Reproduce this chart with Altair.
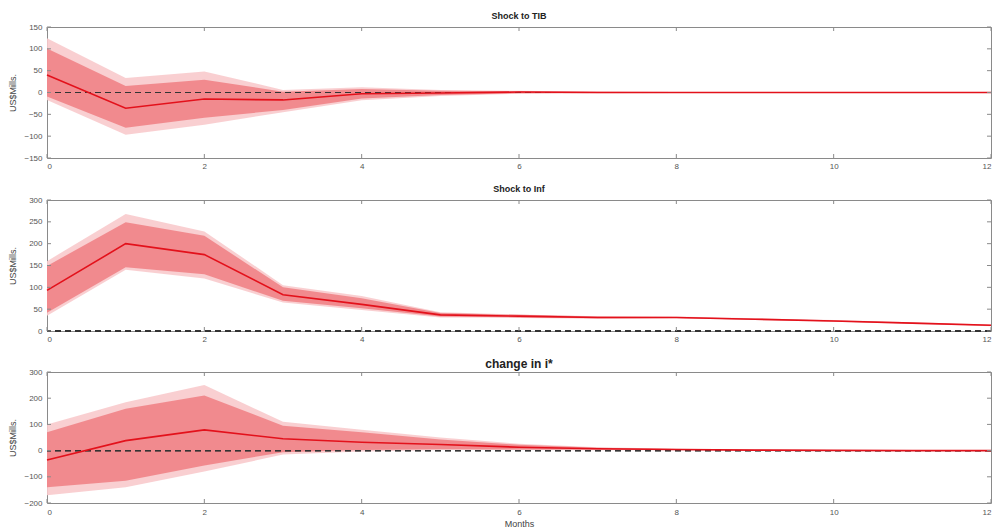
import altair as alt
import pandas as pd

months = list(range(13))
x_ticks = [0, 2, 4, 6, 8, 10, 12]

# Panel 1: Shock to TIB
tib_mean = [40, -36, -15, -17, -3, -1, 1, 0, 0, 0, 0, 0, 0]
tib_inner_hi = [101, 15, 29, 2, 8, 4, 3, 2, 1, 1, 1, 1, 1]
tib_inner_lo = [-9, -81, -58, -40, -14, -6, -2, -1, -1, -1, -1, -1, -1]
tib_outer_hi = [124, 33, 48, 6, 12, 6, 4, 2, 1, 1, 1, 1, 1]
tib_outer_lo = [-17, -97, -74, -45, -18, -8, -3, -2, -1, -1, -1, -1, -1]
tib_yticks = [-150, -100, -50, 0, 50, 100, 150]

# Panel 2: Shock to Inf
inf_mean = [93, 200, 175, 83, 61, 37, 34, 31, 31, 27, 23, 18, 13]
inf_inner_hi = [149, 249, 218, 100, 75, 41, 37, 33, 32, 28, 24, 19, 14]
inf_inner_lo = [42, 146, 130, 69, 52, 33, 31, 29, 30, 26, 22, 17, 12]
inf_outer_hi = [160, 268, 228, 105, 80, 43, 38, 34, 33, 29, 25, 20, 15]
inf_outer_lo = [35, 140, 120, 65, 48, 31, 30, 28, 29, 25, 21, 16, 11]
inf_yticks = [0, 50, 100, 150, 200, 250, 300]

# Panel 3: change in i*
ist_mean = [-36, 38, 79, 45, 32, 23, 13, 7, 4, 2, 1, 0, 0]
ist_inner_hi = [70, 160, 210, 95, 70, 42, 22, 11, 6, 3, 2, 1, 1]
ist_inner_lo = [-140, -115, -57, -6, 2, 5, 4, 3, 2, 1, 0, -1, -1]
ist_outer_hi = [100, 185, 250, 110, 80, 50, 26, 13, 7, 4, 2, 1, 1]
ist_outer_lo = [-170, -140, -80, -15, -3, 2, 2, 1, 1, 0, -1, -1, -1]
ist_yticks = [-200, -100, 0, 100, 200, 300]

panels = [
    dict(title="Shock to TIB", tsize=9, toff=2, mean=tib_mean, ihi=tib_inner_hi, ilo=tib_inner_lo,
         ohi=tib_outer_hi, olo=tib_outer_lo, yticks=tib_yticks),
    dict(title="Shock to Inf", tsize=9, toff=2, mean=inf_mean, ihi=inf_inner_hi, ilo=inf_inner_lo,
         ohi=inf_outer_hi, olo=inf_outer_lo, yticks=inf_yticks),
    dict(title="change in i*", tsize=12, toff=-3, mean=ist_mean, ihi=ist_inner_hi, ilo=ist_inner_lo,
         ohi=ist_outer_hi, olo=ist_outer_lo, yticks=ist_yticks),
]

W, H = 944, 131
FONT = "Liberation Sans"
LINE_RED = "#e3111b"
INNER = "#f0868a"
OUTER = "#f8cacc"
FRAME = "#8a8a8a"


def make_panel(p, last):
    df = pd.DataFrame({"month": months, "mean": p["mean"], "ihi": p["ihi"], "ilo": p["ilo"],
                       "ohi": p["ohi"], "olo": p["olo"]})
    xkw = dict(values=x_ticks, ticks=False, domain=False, grid=False, labelFontSize=8,
               labelPadding=5 if last else 4, labelColor="#555555", labelFont=FONT, format="d")
    if last:
        xkw.update(title="Months", titleFontSize=9, titleFont=FONT, titleFontWeight="normal",
                   titleColor="#444444", titlePadding=3)
    else:
        xkw.update(title="")
    xax = alt.Axis(**xkw)
    yax = alt.Axis(values=p["yticks"], ticks=False, domain=False, grid=False, labelFontSize=8,
                   labelPadding=5, labelColor="#555555", labelFont=FONT, format="d",
                   title="US$Mills.", titleFontSize=9, titleFont=FONT, titleFontWeight="normal",
                   titleColor="#444444", titleX=-30)
    xs = alt.Scale(domain=[0, 12], nice=False, zero=False)
    ys = alt.Scale(domain=[p["yticks"][0], p["yticks"][-1]], nice=False, zero=False)
    X = alt.X("month:Q", scale=xs, axis=xax)

    base = alt.Chart(df)
    outer = base.mark_area(color=OUTER, opacity=0.9).encode(
        x=X, y=alt.Y("olo:Q", scale=ys, axis=yax), y2="ohi:Q")
    inner = base.mark_area(color=INNER, opacity=0.95).encode(
        x=X, y=alt.Y("ilo:Q", scale=ys, axis=yax), y2="ihi:Q")
    zero = base.mark_rule(color="#333333", strokeDash=[6, 4], strokeWidth=0.8).encode(
        y=alt.Y(datum=0, scale=ys, axis=yax))
    line = base.mark_line(color=LINE_RED, strokeWidth=1.6).encode(
        x=X, y=alt.Y("mean:Q", scale=ys, axis=yax))

    xt = alt.Chart(pd.DataFrame({"t": x_ticks}))
    xt_b = xt.mark_rule(color=FRAME, strokeWidth=1).encode(
        x=alt.X("t:Q", scale=xs, axis=xax), y=alt.value(H), y2=alt.value(H - 4))
    xt_t = xt.mark_rule(color=FRAME, strokeWidth=1).encode(
        x=alt.X("t:Q", scale=xs, axis=xax), y=alt.value(0), y2=alt.value(4))
    yt = alt.Chart(pd.DataFrame({"v": p["yticks"]}))
    yt_l = yt.mark_rule(color=FRAME, strokeWidth=1).encode(
        y=alt.Y("v:Q", scale=ys, axis=yax), x=alt.value(0), x2=alt.value(4))
    yt_r = yt.mark_rule(color=FRAME, strokeWidth=1).encode(
        y=alt.Y("v:Q", scale=ys, axis=yax), x=alt.value(W), x2=alt.value(W - 4))

    return alt.layer(outer, inner, zero, line, xt_b, xt_t, yt_l, yt_r).properties(
        width=W, height=H,
        title=alt.TitleParams(p["title"], fontSize=p["tsize"], offset=p["toff"], font=FONT,
                              fontWeight="bold", color="#222222", anchor="middle"))


charts = [make_panel(p, i == len(panels) - 1) for i, p in enumerate(panels)]

chart = alt.vconcat(*charts, spacing=13).properties(
    padding={"left": 7, "top": 11, "right": 0, "bottom": 0},
    background="white",
).configure_view(stroke=FRAME, strokeWidth=1)

chart.save("out.html", embed_options={"renderer": "svg", "actions": False})
